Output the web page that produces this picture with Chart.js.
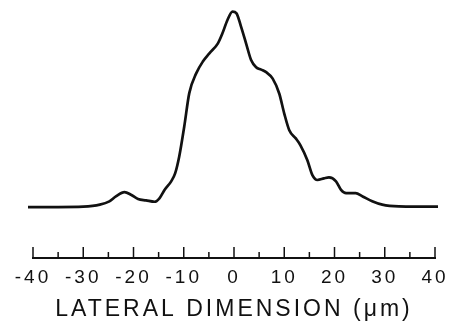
<!DOCTYPE html>
<html>
<head>
<meta charset="utf-8">
<script src="https://cdn.jsdelivr.net/npm/chart.js@4"></script>
<style>
  html, body { margin: 0; padding: 0; background: #fff; }
  #wrap { width: 449px; height: 323px; }
</style>
</head>
<body>
<div id="wrap"><canvas id="profile"></canvas></div>
<script>
// lateral position (um) and relative intensity
const positions = [-41, -35, -30, -26.7, -24.8, -23.5, -21.8, -20.5, -19.1, -17.5, -15.8, -14.8, -13.8, -12.5, -11.7, -10.9, -9.9, -8.9, -7.5, -6.2, -4.9, -3.2, -2.3, -1.3, -0.3, 0.5, 1.4, 2.4, 3.4, 4.4, 5.4, 6.4, 7.7, 9.0, 10.0, 11.0, 12.3, 13.2, 14.6, 15.6, 16.6, 17.9, 18.9, 20.3, 21.3, 22.3, 24.2, 25.6, 27.5, 29.5, 32.8, 36.2, 40.6];
const intensity = [0, 0, 0.2, 1.2, 2.9, 5.4, 7.6, 6.3, 4.1, 3.4, 2.7, 4.6, 8.8, 13.1, 17.3, 25.8, 41.1, 58.1, 68.3, 74.2, 78.4, 83.5, 88.6, 95.4, 99.7, 98.8, 92.0, 83.5, 75.0, 71.3, 70.1, 68.8, 65.5, 57.9, 47.7, 39.2, 35.0, 31.6, 23.9, 16.3, 13.8, 14.6, 15.1, 13.1, 8.8, 7.1, 7.1, 5.4, 2.9, 1.2, 0.3, 0.2, 0.2];
const tickLabels = ["-40", "-30", "-20", "-10", "0", "10", "20", "30", "40"];

const FONT = "'Liberation Sans', Arial, sans-serif";

// ticks standing up from the axis line, long on the labelled ones
const rulerTicks = {
  id: "rulerTicks",
  beforeDraw(chart) {
    chart.ctx.letterSpacing = "3px";
  },
  afterDraw(chart) {
    const ctx = chart.ctx;
    const scale = chart.scales.x;
    const base = chart.chartArea.bottom;
    ctx.save();
    ctx.strokeStyle = "#111";
    ctx.lineWidth = 1.5;
    scale.ticks.forEach(t => {
      const x = scale.getPixelForValue(t.value);
      const len = t.value % 10 === 0 ? 11 : 6;
      ctx.beginPath();
      ctx.moveTo(x, base);
      ctx.lineTo(x, base - len);
      ctx.stroke();
    });
    ctx.restore();
  }
};

const points = positions.map((p, i) => ({ x: p, y: intensity[i] }));

new Chart(document.getElementById("profile"), {
  type: "line",
  data: {
    datasets: [{
      data: points,
      borderColor: "#111",
      borderWidth: 2.7,
      pointRadius: 0,
      cubicInterpolationMode: "monotone",
      clip: false
    }]
  },
  options: {
    responsive: true,
    maintainAspectRatio: false,
    animation: false,
    layout: { padding: { top: 11, left: 33, right: 14, bottom: 0 } },
    plugins: { legend: { display: false }, tooltip: { enabled: false } },
    scales: {
      x: {
        type: "linear",
        min: -40,
        max: 40,
        afterFit(scale) {
          scale.height = 65;
          scale.paddingLeft = 0;
          scale.paddingRight = 0;
        },
        ticks: {
          stepSize: 5,
          autoSkip: false,
          maxRotation: 0,
          padding: 8,
          color: "#111",
          font: { family: FONT, size: 19 },
          callback: v => (v % 10 === 0 ? tickLabels[(v + 40) / 10] : "")
        },
        grid: { display: true, drawOnChartArea: false, drawTicks: false, color: "rgba(0,0,0,0)" },
        border: { display: true, color: "#111", width: 2 },
        title: {
          display: true,
          text: "LATERAL DIMENSION (μm)",
          color: "#111",
          font: { family: FONT, size: 23 },
          padding: { top: 1, bottom: 0 }
        }
      },
      y: {
        display: false,
        min: -26,
        max: 100
      }
    }
  },
  plugins: [rulerTicks]
});
</script>
</body>
</html>
